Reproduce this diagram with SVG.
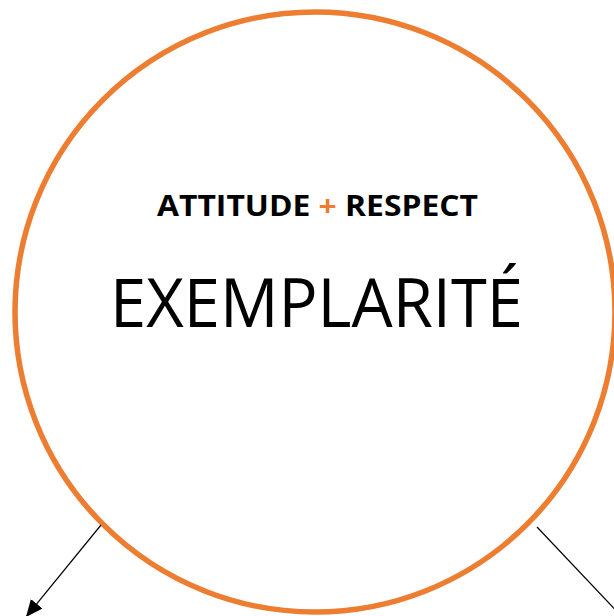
<svg xmlns="http://www.w3.org/2000/svg" width="614" height="616" viewBox="0 0 614 616">
<style>
.ring{fill:#fff;stroke:#ED7D31;stroke-width:5.5}
.conn{stroke:#000;stroke-width:1.2;fill:none}
.t1{font-family:"Open Sans","Liberation Sans",sans-serif;font-weight:bold;font-size:29px;fill:#000}
.t2{font-family:"Open Sans","Liberation Sans",sans-serif;font-size:68px;fill:#000}
.plus{fill:#ED7D31}
</style>
<defs>
<marker id="ah" markerUnits="userSpaceOnUse" markerWidth="18" markerHeight="18" viewBox="0 0 18 18" refX="17" refY="9" orient="auto">
<path d="M0,1.5 L17,9 L0,16.5 Z" fill="#000"/>
</marker>
</defs>
<g id="circle-node">
<circle class="ring" cx="315" cy="312" r="300"/>
<text class="t1" x="157" y="216" textLength="321" lengthAdjust="spacingAndGlyphs">ATTITUDE <tspan class="plus">+</tspan> RESPECT</text>
<text class="t2" x="110" y="327" textLength="413" lengthAdjust="spacingAndGlyphs">EXEMPLARITÉ</text>
</g>
<g id="connectors">
<line class="conn" x1="101" y1="525" x2="26" y2="617" marker-end="url(#ah)"/>
<line class="conn" x1="537" y1="527" x2="625" y2="620"/>
</g>
</svg>
